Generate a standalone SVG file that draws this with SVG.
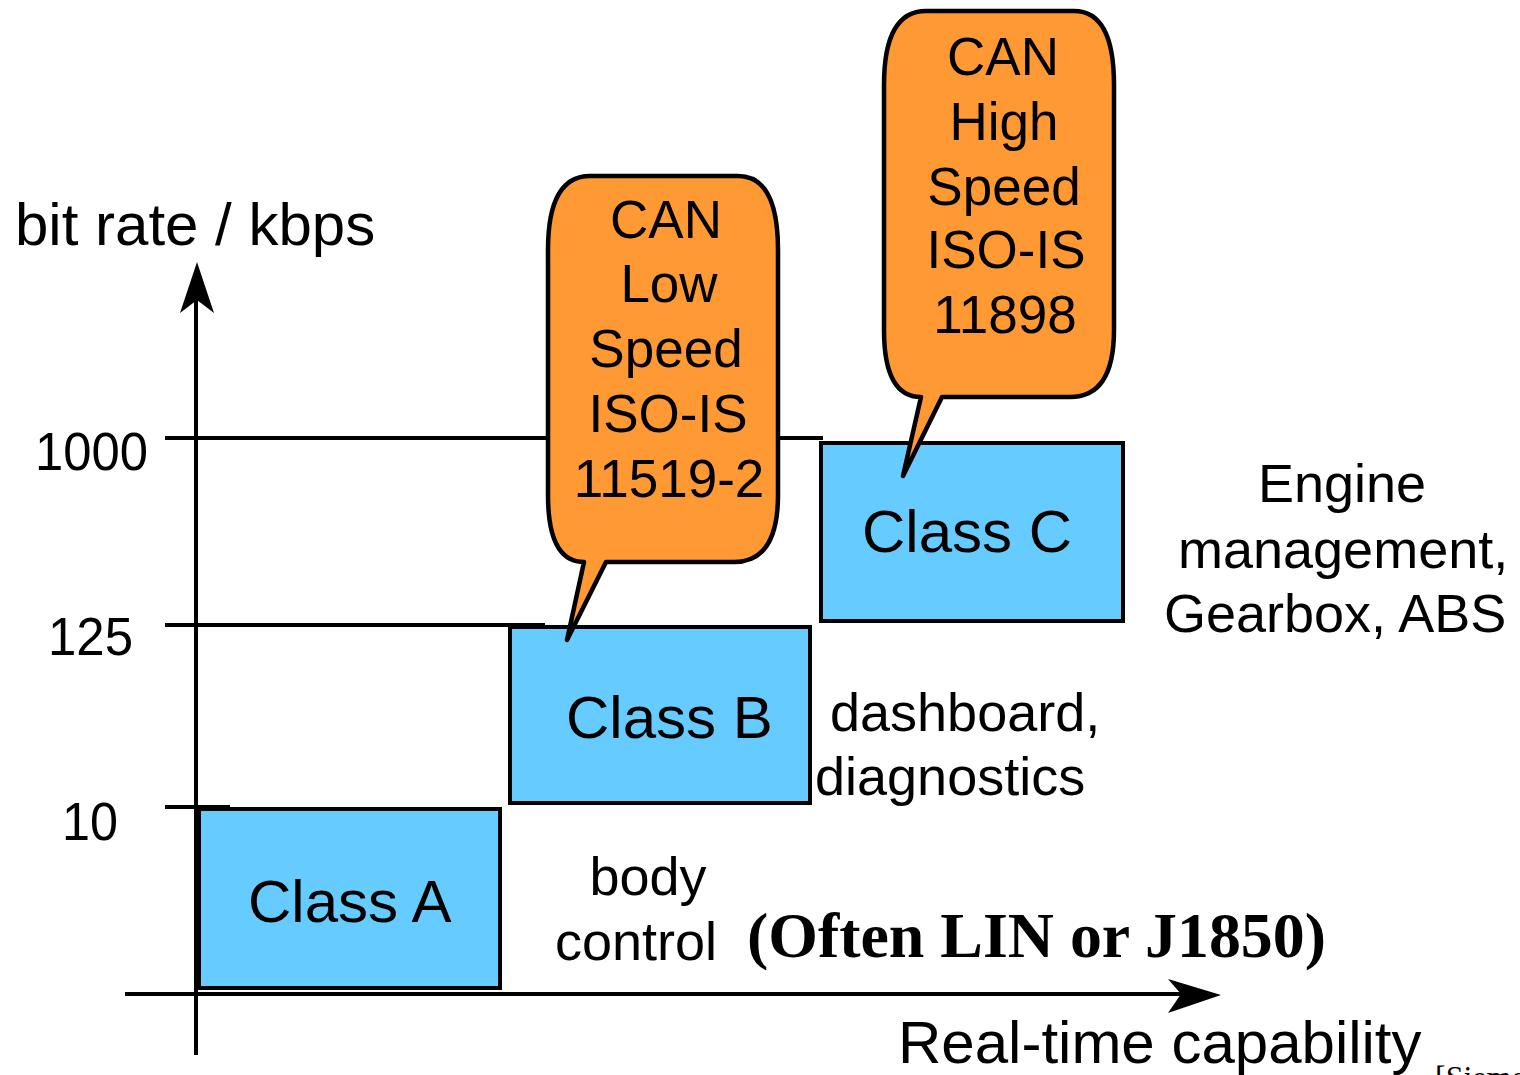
<svg xmlns="http://www.w3.org/2000/svg" width="1520" height="1075" viewBox="0 0 1520 1075">
  <style>
    .sans { font-family: "Liberation Sans", Arial, sans-serif; fill: #000; }
    .cls { font-size: 60px; }
    .lbl { font-size: 54px; }
    .tick { font-size: 54px; }
    .bub { font-size: 53px; text-anchor: middle; }
    .box { fill: #66CCFF; stroke: #000; stroke-width: 4; }
    .bubble { fill: #FF9933; stroke: #000; stroke-width: 4.5; stroke-linejoin: round; }
    .line { stroke: #000; stroke-width: 4; fill: none; }
  </style>
  <rect width="1520" height="1075" fill="#fff"/>

  <!-- axes and bit-rate level lines -->
  <g id="connectors">
    <line class="line" x1="165" y1="438" x2="823" y2="438"/>
    <line class="line" x1="165" y1="625" x2="545" y2="625"/>
    <line class="line" x1="165" y1="807" x2="230" y2="807"/>
    <line class="line" x1="196" y1="300" x2="196" y2="1055"/>
    <polygon points="197,262 180,313 197,300 214,313" fill="#000"/>
    <line class="line" x1="125" y1="994" x2="1185" y2="994"/>
    <polygon points="1221,995 1168,979 1181,994 1168,1013" fill="#000"/>
  </g>

  <g id="classA">
    <rect class="box" x="199" y="809" width="301" height="179"/>
    <text class="sans cls" x="248" y="922">Class A</text>
  </g>
  <g id="classB">
    <rect class="box" x="510" y="627" width="300" height="176"/>
    <text class="sans cls" x="566" y="738">Class B</text>
  </g>
  <g id="classC">
    <rect class="box" x="821" y="443" width="302" height="178"/>
    <text class="sans cls" x="862" y="552">Class C</text>
  </g>

  <!-- callout for low speed CAN -->
  <g id="canLowSpeed">
    <path class="bubble" d="M 590,176 H 738 Q 778,176 778,250 V 495 Q 778,562 734,562 H 606 L 567,640 L 584,562 Q 548,562 548,495 V 250 Q 548,176 590,176 Z"/>
    <text class="sans bub" x="666" y="238">CAN</text>
    <text class="sans bub" x="669" y="302">Low</text>
    <text class="sans bub" x="666" y="367">Speed</text>
    <text class="sans bub" x="668" y="432">ISO-IS</text>
    <text class="sans bub" x="669" y="497">11519-2</text>
  </g>

  <!-- callout for high speed CAN -->
  <g id="canHighSpeed">
    <path class="bubble" d="M 926,11 H 1074 Q 1114,11 1114,85 V 330 Q 1114,397 1070,397 H 942 L 903,476 L 921,397 Q 884,397 884,330 V 85 Q 884,11 926,11 Z"/>
    <text class="sans bub" x="1003" y="75">CAN</text>
    <text class="sans bub" x="1004" y="140">High</text>
    <text class="sans bub" x="1004" y="205">Speed</text>
    <text class="sans bub" x="1006" y="268">ISO-IS</text>
    <text class="sans bub" x="1005" y="333">11898</text>
  </g>

  <g id="axisLabels">
    <text class="sans" x="15" y="245" font-size="60">bit rate / kbps</text>
    <text class="sans tick" x="35" y="470" textLength="113" lengthAdjust="spacingAndGlyphs">1000</text>
    <text class="sans tick" x="48" y="655" textLength="85" lengthAdjust="spacingAndGlyphs">125</text>
    <text class="sans tick" x="62" y="840" textLength="56" lengthAdjust="spacingAndGlyphs">10</text>
    <text class="sans" x="898" y="1063" font-size="60">Real-time capability</text>
    <text x="1435" y="1088" font-family="'Liberation Serif', 'Times New Roman', serif" font-size="32">[Siemens]</text>
  </g>

  <g id="applications">
    <text class="sans lbl" x="648" y="895" text-anchor="middle">body</text>
    <text class="sans lbl" x="555" y="960">control</text>
    <text class="sans lbl" x="830" y="731">dashboard,</text>
    <text class="sans lbl" x="815" y="795">diagnostics</text>
    <text class="sans lbl" x="1342" y="502" text-anchor="middle">Engine</text>
    <text class="sans lbl" x="1178" y="568">management,</text>
    <text class="sans lbl" x="1164" y="632">Gearbox, ABS</text>
  </g>

  <g id="note">
    <text x="747" y="957" font-family="'Liberation Serif', 'Times New Roman', serif" font-weight="bold" font-size="64" textLength="579" lengthAdjust="spacingAndGlyphs">(Often LIN or J1850)</text>
  </g>
</svg>
